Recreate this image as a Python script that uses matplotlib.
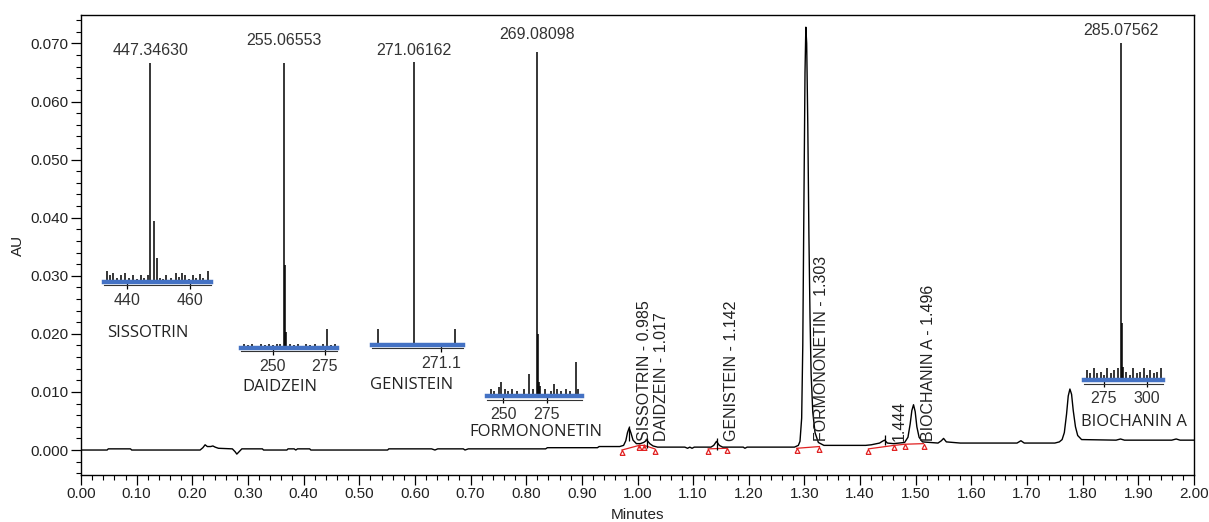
import matplotlib.pyplot as plt
from matplotlib.ticker import MultipleLocator, FormatStrFormatter

plt.rcParams["font.family"] = ["Liberation Sans", "DejaVu Sans"]

# chromatogram trace (minutes, AU)
time_min = [
    0.000, 0.047, 0.049, 0.089, 0.091, 0.214, 0.219, 0.223, 0.227, 0.233,
    0.237, 0.241, 0.247, 0.272, 0.277, 0.280, 0.284, 0.289, 0.326, 0.328,
    0.370, 0.372, 0.383, 0.386, 0.389, 0.411, 0.413, 0.551, 0.553, 0.630,
    0.636, 0.641, 0.687, 0.690, 0.696, 0.835, 0.838, 0.928, 0.931, 0.968,
    0.975, 0.979, 0.982, 0.985, 0.988, 0.992, 0.998, 1.005, 1.011, 1.017,
    1.022, 1.028, 1.036, 1.085, 1.090, 1.094, 1.098, 1.102, 1.132, 1.137,
    1.142, 1.147, 1.153, 1.190, 1.193, 1.197, 1.282, 1.289, 1.292, 1.295,
    1.297, 1.299, 1.301, 1.3025, 1.304, 1.306, 1.308, 1.310, 1.312, 1.315,
    1.319, 1.325, 1.335, 1.410, 1.420, 1.435, 1.440, 1.444, 1.449, 1.460,
    1.480, 1.486, 1.490, 1.493, 1.496, 1.499, 1.502, 1.506, 1.512, 1.540,
    1.546, 1.550, 1.555, 1.580, 1.682, 1.689, 1.695, 1.750, 1.758, 1.763,
    1.767, 1.771, 1.774, 1.777, 1.780, 1.783, 1.787, 1.791, 1.798, 1.860,
    1.868, 1.875, 1.960, 1.968, 1.975, 2.000,
]
absorb_au = [
    0.0000, 0.0000, 0.0002, 0.0002, 0.0000, 0.0000, 0.0004, 0.0009, 0.0006, 0.0006,
    0.0007, 0.0005, 0.0003, 0.0002, -0.0003, -0.0007, -0.0003, 0.0002, 0.0002, 0.0000,
    0.0000, 0.0002, 0.0002, 0.0000, 0.0002, 0.0002, 0.0000, 0.0000, 0.0002, 0.0002,
    0.0000, 0.0002, 0.0002, 0.0000, 0.0002, 0.0002, 0.0004, 0.0004, 0.0006, 0.0006,
    0.0008, 0.0016, 0.0030, 0.0038, 0.0030, 0.0017, 0.0011, 0.0011, 0.0013, 0.0017,
    0.0011, 0.0007, 0.0005, 0.0005, 0.0003, 0.0005, 0.0003, 0.0005, 0.0005, 0.0008,
    0.0015, 0.0008, 0.0005, 0.0005, 0.0003, 0.0005, 0.0005, 0.0008, 0.0015, 0.0055,
    0.0180, 0.0420, 0.0650, 0.0728, 0.0700, 0.0560, 0.0370, 0.0230, 0.0130, 0.0065,
    0.0030, 0.0013, 0.0008, 0.0008, 0.0009, 0.0012, 0.0015, 0.0017, 0.0012, 0.0011,
    0.0013, 0.0022, 0.0045, 0.0068, 0.0078, 0.0066, 0.0040, 0.0022, 0.0014, 0.0012,
    0.0016, 0.0020, 0.0014, 0.0012, 0.0012, 0.0016, 0.0012, 0.0012, 0.0014, 0.0018,
    0.0030, 0.0062, 0.0093, 0.0105, 0.0096, 0.0068, 0.0040, 0.0025, 0.0018, 0.0017,
    0.0019, 0.0017, 0.0017, 0.0019, 0.0017, 0.0017,
]

# integrated peaks
peak_names = ["SISSOTRIN", "DAIDZEIN", "GENISTEIN", "FORMONONETIN", "", "BIOCHANIN A"]
peak_rts = [0.985, 1.017, 1.142, 1.303, 1.444, 1.496]

# small apex marks (minutes, lower AU, upper AU)
mark_rts = [0.985, 1.017, 1.142, 1.444]
mark_lo = [0.0016, 0.0003, 0.0000, 0.0008]
mark_hi = [0.0041, 0.0021, 0.0020, 0.0026]

# red integration baselines
base_t = [[0.972, 1.003, 1.012, 1.031], [1.127, 1.160], [1.286, 1.327],
          [1.415, 1.461, 1.481, 1.514]]
base_au = [[0.0000, 0.0008, 0.0008, 0.0002], [0.0002, 0.0003], [0.0003, 0.0006],
           [0.0002, 0.0008, 0.0010, 0.0011]]
drop_t = [1.003, 1.012]
drop_au = [0.0008, 0.0008]

# mass spectra insets (m/z, relative intensity)
sis_mz = [433.5, 434.5, 435.5, 436.8, 438.0, 439.2, 440.5, 441.8, 443.0, 444.5,
          445.5, 446.5, 447.35, 448.4, 449.4, 450.3, 451.5, 452.5, 454.0, 455.5,
          456.5, 457.5, 458.5, 459.5, 461.0, 462.0, 463.0, 464.0, 465.5]
sis_int = [0.05, 0.03, 0.04, 0.02, 0.03, 0.04, 0.02, 0.03, 0.015, 0.03,
           0.02, 0.03, 1.00, 0.28, 0.11, 0.02, 0.015, 0.03, 0.02, 0.04,
           0.025, 0.04, 0.03, 0.015, 0.03, 0.02, 0.035, 0.02, 0.05]
dai_mz = [236, 238, 240, 242, 244, 246, 248, 250, 252, 253.5, 255.07, 255.6,
          256.3, 258, 260, 262, 264, 266, 268, 270, 272, 274, 276.1, 278, 280]
dai_int = [0.015, 0.01, 0.015, 0.008, 0.015, 0.01, 0.015, 0.01, 0.015, 0.015, 1.0, 0.29,
           0.056, 0.015, 0.01, 0.015, 0.008, 0.015, 0.01, 0.015, 0.008, 0.015, 0.067, 0.01, 0.015]
gen_mz = [271.010, 271.06162, 271.120]
gen_int = [0.057, 1.0, 0.057]
form_mz = [243, 245, 247.5, 249, 251, 253, 255, 258, 262, 265, 267, 269.08,
           269.7, 270.3, 271, 274, 277, 279, 280.5, 283, 286, 288, 291.6, 292.5]
form_int = [0.02, 0.015, 0.025, 0.04, 0.02, 0.015, 0.02, 0.015, 0.02, 0.064, 0.02, 1.0,
            0.18, 0.04, 0.03, 0.02, 0.015, 0.035, 0.02, 0.015, 0.02, 0.015, 0.10, 0.02]
bio_mz = [265, 267, 269, 271, 273, 275, 277, 279, 281, 283, 285.08, 285.6, 286.3,
          288, 290, 292, 294, 296, 298, 300, 302, 304, 306, 308]
bio_int = [0.03, 0.02, 0.035, 0.02, 0.025, 0.015, 0.035, 0.02, 0.03, 0.035, 1.0, 0.17, 0.04,
           0.025, 0.015, 0.035, 0.02, 0.025, 0.035, 0.015, 0.03, 0.02, 0.025, 0.035]

spec_names = ["SISSOTRIN", "DAIDZEIN", "GENISTEIN", "FORMONONETIN", "BIOCHANIN A"]
spec_titles = ["447.34630", "255.06553", "271.06162", "269.08098", "285.07562"]
spec_mz = [sis_mz, dai_mz, gen_mz, form_mz, bio_mz]
spec_int = [sis_int, dai_int, gen_int, form_int, bio_int]
spec_ticks = [[440, 460], [250, 275], [271.1], [250, 275], [275, 300]]
spec_tick_labels = [["440", "460"], ["250", "275"], ["271.1"], ["250", "275"], ["275", "300"]]
spec_xlim = [(432.7, 466.6), (234.6, 280.8), (271.002, 271.131), (240.9, 294.9), (263.4, 309.3)]

# inset layout in pixels: x0, x1, blue line y, top y, title gap, name x, name y
W, H = 1209, 522
inset_px = [
    (104, 211, 282, 63, 5, 148, 333),
    (241, 337, 348, 63, 15, 280, 387),
    (372, 463, 345, 62, 4, 412, 385),
    (487, 582, 396, 52, 10, 536, 432),
    (1084, 1163, 380, 43, 5, 1134, 422),
]

fig = plt.figure(figsize=(W / 100, H / 100), dpi=100)
ax = fig.add_axes([81 / W, (H - 475) / H, (1194 - 81) / W, (475 - 15) / H])

ax.plot(time_min, absorb_au, color="black", lw=1.0, zorder=3)

for bt, ba in zip(base_t, base_au):
    ax.plot(bt, ba, color="#e02020", lw=0.9, zorder=2)
    ax.plot(bt, ba, ls="none", marker=[(-1, -2), (1, -2), (0, 0), (-1, -2)],
            markersize=7, markerfacecolor="none", markeredgecolor="#e02020",
            markeredgewidth=0.9, zorder=4)
ax.vlines(drop_t, [a - 0.0004 for a in drop_au], [a + 0.0003 for a in drop_au],
          color="#e02020", lw=0.9, zorder=4)
ax.vlines(mark_rts, mark_lo, mark_hi, color="black", lw=0.9, zorder=4)

for name, rt in zip(peak_names, peak_rts):
    label = f"{name} - {rt:.3f}" if name else f"{rt:.3f}"
    ax.text(rt + 0.027, 0.0016, label, rotation=90, ha="center", va="bottom",
            fontsize=11.5, color="#222222")

ax.set_xlim(0, 2.0)
ax.set_ylim(-0.0043, 0.0749)
ax.xaxis.set_major_locator(MultipleLocator(0.1))
ax.xaxis.set_minor_locator(MultipleLocator(0.02))
ax.yaxis.set_major_locator(MultipleLocator(0.01))
ax.yaxis.set_minor_locator(MultipleLocator(0.002))
ax.xaxis.set_major_formatter(FormatStrFormatter("%.2f"))
ax.yaxis.set_major_formatter(FormatStrFormatter("%.3f"))
ax.tick_params(which="major", direction="out", length=7, width=0.9,
               labelsize=11, labelcolor="#222222", pad=2)
ax.tick_params(which="minor", direction="out", length=3.5, width=0.8)
for s in ax.spines.values():
    s.set_linewidth(1.0)
ax.set_xlabel("Minutes", fontsize=11, color="#222222", labelpad=5)
ax.set_ylabel("AU", fontsize=11, color="#222222", labelpad=4)

for i, (x0, x1, yb, yt, gap, nx, ny) in enumerate(inset_px):
    iax = fig.add_axes([x0 / W, (H - yb) / H, (x1 - x0) / W, (yb - yt) / H])
    iax.patch.set_alpha(0)
    for s in iax.spines.values():
        s.set_visible(False)
    iax.vlines(spec_mz[i], 0, spec_int[i], color="black", lw=1.1)
    iax.axhline(0, color="#4472c4", lw=3.2, zorder=3, clip_on=False)
    iax.axhline(-0.012, color="#333333", lw=0.8, zorder=2, clip_on=False)
    iax.set_xlim(*spec_xlim[i])
    iax.set_ylim(0, 1)
    iax.set_yticks([])
    iax.set_xticks(spec_ticks[i])
    iax.set_xticklabels(spec_tick_labels[i])
    iax.tick_params(axis="x", direction="out", length=5, width=0.9,
                    labelsize=11.5, labelcolor="#333333", pad=3)
    main = spec_int[i].index(max(spec_int[i]))
    iax.annotate(spec_titles[i], xy=(spec_mz[i][main], 1.0), xytext=(0, gap),
                 textcoords="offset pixels", ha="center", va="bottom",
                 fontsize=11.5, color="#333333", annotation_clip=False)
    fig.text(nx / W, (H - ny) / H, spec_names[i], ha="center", va="center",
             fontsize=12, family=["Open Sans", "DejaVu Sans"], color="#222222")

fig.savefig("out.png", dpi=100)
